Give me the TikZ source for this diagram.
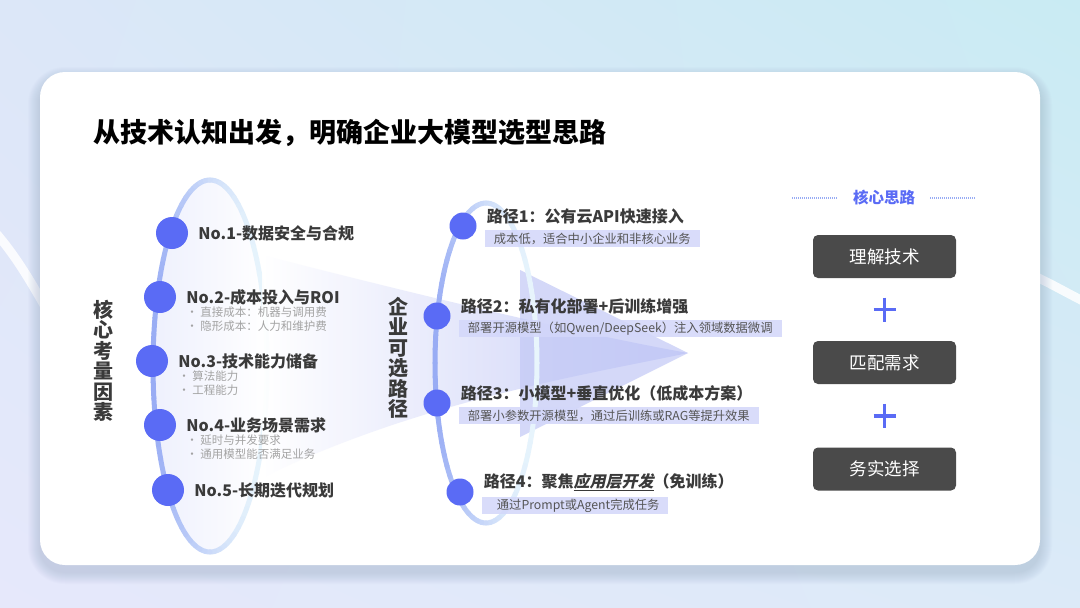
\documentclass[tikz,border=0pt]{standalone}
\usepackage{fontspec}
\setmainfont{Noto Sans CJK SC}
\newfontfamily\cjkslant{Noto Sans CJK SC}[FakeSlant=0.22]
\usepackage{xcolor}
\definecolor{cBgTL}{HTML}{DCE7F8}
\definecolor{cBgTR}{HTML}{C9EBF3}
\definecolor{cBgBL}{HTML}{E6E8FB}
\definecolor{cBgBR}{HTML}{DCEAF8}
\definecolor{cShadow}{HTML}{8FA2BE}
\definecolor{cDot}{HTML}{5A6BF5}
\definecolor{cRing}{HTML}{98ACF4}
\definecolor{cRingLight}{HTML}{E8F5FC}
\definecolor{cFill}{HTML}{EEF0FD}
\definecolor{cFunnel}{HTML}{C2C8F6}
\definecolor{cNote}{HTML}{D3D7FA}
\definecolor{cText}{HTML}{3A3A3A}
\definecolor{cSub}{HTML}{A3A3A3}
\definecolor{cNoteText}{HTML}{555555}
\definecolor{cIdea}{HTML}{4A4A4A}
\usepackage{tikz}
\usetikzlibrary{positioning,calc,shadings}
\newcommand\fsz[1]{\fontsize{#1}{#1}\selectfont}
\tikzset{
  dot-factor/.style={circle,fill=cDot,minimum size=32pt,inner sep=0pt},
  dot-path/.style={circle,fill=cDot,minimum size=27pt,inner sep=0pt},
  lbl-factor/.style={anchor=west,inner sep=0pt,text=cText,font=\bfseries\fsz{16}},
  lbl-bullet/.style={anchor=north west,inner sep=0pt,align=left,text=cSub,
    font=\fontsize{11.5}{13.5}\selectfont},
  lbl-path/.style={anchor=west,inner sep=0pt,text=cText,font=\bfseries\fsz{16}},
  box-note/.style={anchor=north west,fill=cNote,fill opacity=0.85,text opacity=1,
    text=cNoteText,font=\fsz{12.3},inner xsep=9pt,inner ysep=0pt,minimum height=17pt},
  lbl-vert/.style={align=center,inner sep=0pt,text=cText,
    font=\bfseries\fontsize{20}{20.5}\selectfont},
  box-idea/.style={fill=cIdea,rounded corners=5pt,minimum width=143pt,
    minimum height=43pt,text=white,font=\fsz{17.5}},
  idea-rule/.style={draw=cRing,line width=1.2pt,dash pattern=on 1pt off 1pt},
  plus-sign/.style={draw=cDot,line width=3.5pt},
  ring/.style={line width=5pt,line cap=round},
}
\newcommand\bul{\makebox[14pt][l]{•}}

\begin{document}
\begin{tikzpicture}[x=1pt,y=-1pt]
  \useasboundingbox (0,0) rectangle (1080,608);
  % background and card
  \shade[upper left=cBgTL,upper right=cBgTR,lower left=cBgBL,lower right=cBgBR]
    (0,0) rectangle (1080,608);
  \draw[white,line width=9pt,opacity=0.85] (-5,232) .. controls (15,255) and (30,280) .. (48,312);
  \draw[white,line width=9pt,opacity=0.85] (1030,274) .. controls (1050,283) and (1065,292) .. (1085,302);
  \foreach \s in {1,...,12} {
    \pgfmathsetmacro\rr{25+\s}
    \fill[cShadow,opacity=0.03,rounded corners=\rr pt] (40-\s,72-\s+7) rectangle (1040+\s,565+\s+7);
  }
  \fill[white,rounded corners=25pt] (40,72) rectangle (1040,565);
  \node[anchor=west,inner sep=0pt,font=\bfseries\fsz{27},text=black] (title) at (93,133)
    {从技术认知出发，明确企业大模型选型思路};

  % rings and funnel
  \shade[left color=cFill,right color=white] (210,366) ellipse [x radius=57,y radius=186];
  \foreach \cx/\cy/\rx/\ry/\layer in {210/366/57/186/0, 486/363/51/160/1} {
    \ifnum\layer=1
      \path[left color=white,middle color=cFunnel!80,right color=cFunnel,fill opacity=0.9]
        (262,255) .. controls (380,285) and (560,330) .. (688,353)
        .. controls (600,372) and (420,400) .. (262,478) -- cycle;
      \fill[cFunnel,fill opacity=0.7] (520,270) -- (688,353) -- (520,437) -- cycle;
    \fi
    \foreach \a in {0,5,...,355} {
      \pgfmathsetmacro\p{100*((1-cos(\a+2.5))/2)^1.5}
      \draw[ring,color=cRing!\p!cRingLight]
        plot[domain=\a:\a+5,samples=3] ({\cx+\rx*cos(\x)},{\cy+\ry*sin(\x)});
    }
  }

  % factors
  \foreach \n/\x/\y/\txt in {1/172/233/{No.1-数据安全与合规}, 2/160/297/{No.2-成本投入与ROI},
      3/152/361/{No.3-技术能力储备}, 4/160/425/{No.4-业务场景需求}, 5/168/490/{No.5-长期迭代规划}} {
    \node[dot-factor] (f\n) at (\x,\y) {};
    \node[lbl-factor,right=10pt of f\n] (ft\n) {\txt};
  }
  \node[lbl-bullet,below=2pt of ft2.south west,anchor=north west] (fb2)
    {\bul 直接成本：机器与调用费\\\bul 隐形成本：人力和维护费};
  \node[lbl-bullet,below=2pt of ft3.south west,anchor=north west] (fb3)
    {\bul 算法能力\\\bul 工程能力};
  \node[lbl-bullet,below=2pt of ft4.south west,anchor=north west] (fb4)
    {\bul 延时与并发要求\\\bul 通用模型能否满足业务};
  \node[lbl-vert] (vfactor) at (103,361) {核\\心\\考\\量\\因\\素};
  \node[lbl-vert] (vpath) at (398,358) {企\\业\\可\\选\\路\\径};

  % paths
  \foreach \n/\x/\y/\txt/\note in {
      1/463/226/{路径1：公有云API快速接入}/{成本低，适合中小企业和非核心业务},
      2/437/316/{路径2：私有化部署+后训练增强}/{部署开源模型（如Qwen/DeepSeek）注入领域数据微调},
      3/437/403/{路径3：小模型+垂直优化（低成本方案）}/{部署小参数开源模型，通过后训练或RAG等提升效果},
      4/460/492/{路径4：聚焦\underline{\cjkslant\bfseries 应用层开发}（免训练）}/{\hspace{6pt}通过Prompt或Agent完成任务}} {
    \node[dot-path] (p\n) at (\x,\y) {};
    \node[lbl-path,right=10pt of p\n,yshift=10pt] (pt\n) {\txt};
    \node[box-note,below=6pt of pt\n.south west,anchor=north west,xshift=-2pt] (pn\n) {\note};
  }

  % core idea
  \node[inner sep=0pt,font=\bfseries\fsz{15.5},text=cDot] (idea) at (884,198) {核心思路};
  \draw[idea-rule] ([xshift=-16pt]idea.west) -- ++(-45,0);
  \draw[idea-rule] ([xshift=15pt]idea.east) -- ++(45,0);
  \foreach \n/\y/\txt in {1/256.5/理解技术, 2/362.5/匹配需求, 3/469/务实选择}
    \node[box-idea] (i\n) at (884.5,\y) {\txt};
  \foreach \a/\b in {1/2, 2/3} {
    \coordinate (plus\a) at ($(i\a)!0.5!(i\b)$);
    \draw[plus-sign] ([yshift=12pt]plus\a) -- ([yshift=-12pt]plus\a)
      ([xshift=-11pt]plus\a) -- ([xshift=11pt]plus\a);
  }
\end{tikzpicture}
\end{document}
